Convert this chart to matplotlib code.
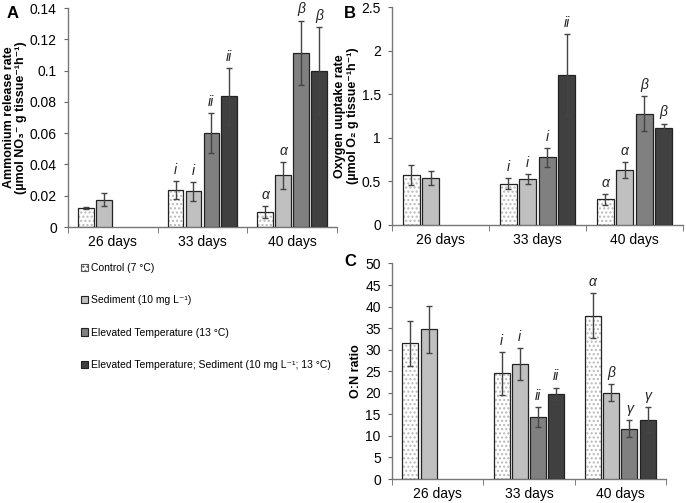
import numpy as np
import matplotlib
matplotlib.use("Agg")
import matplotlib.pyplot as plt
from matplotlib.patches import Rectangle

plt.rcParams['font.family'] = ['Liberation Sans', 'DejaVu Sans']

days = ["26 days", "33 days", "40 days"]
treatments = ["Control (7 °C)", "Sediment (10 mg L⁻¹)", "Elevated Temperature (13 °C)",
              "Elevated Temperature; Sediment (10 mg L⁻¹; 13 °C)"]
colors = ["#ffffff", "#c0c0c0", "#808080", "#404040"]

# Panel A: ammonium release rate (rows = treatments, cols = days)
amm_mean = [[0.012, 0.0235, 0.0095],
            [0.0175, 0.0228, 0.033],
            [np.nan, 0.060, 0.1115],
            [np.nan, 0.0835, 0.100]]
amm_err = [[0.0007, 0.0058, 0.0037],
           [0.0043, 0.006, 0.0085],
           [np.nan, 0.013, 0.0205],
           [np.nan, 0.018, 0.028]]
amm_sig = [["", "i", "α"], ["", "i", "α"], ["", "ii", "β"], ["", "ii", "β"]]

# Panel B: oxygen uptake rate
oxy_mean = [[0.575, 0.475, 0.295],
            [0.535, 0.53, 0.63],
            [np.nan, 0.775, 1.275],
            [np.nan, 1.72, 1.11]]
oxy_err = [[0.115, 0.063, 0.063],
           [0.08, 0.057, 0.096],
           [np.nan, 0.11, 0.2],
           [np.nan, 0.47, 0.053]]
oxy_sig = [["", "i", "α"], ["", "i", "α"], ["", "i", "β"], ["", "ii", "β"]]

# Panel C: O:N ratio
on_mean = [[31.5, 24.5, 37.9],
           [34.7, 26.6, 20.0],
           [np.nan, 14.3, 11.7],
           [np.nan, 19.8, 13.8]]
on_err = [[5.2, 5.0, 5.3],
          [5.4, 3.7, 2.0],
          [np.nan, 2.3, 2.0],
          [np.nan, 1.4, 2.8]]
on_sig = [["", "i", "α"], ["", "i", "β"], ["", "ii", "γ"], ["", "ii", "γ"]]

fig = plt.figure(figsize=(6.86, 5.03), dpi=100)
axA = fig.add_axes([0.0991, 0.5487, 0.392, 0.4353])
axB = fig.add_axes([0.5714, 0.5527, 0.4242, 0.4333])
axC = fig.add_axes([0.5714, 0.0477, 0.3994, 0.4285])

width = 0.175
step = 0.2
x = np.arange(len(days))


def draw(ax, means, errs, sigs, ymax, yticks, yticklabels, ylabel):
    for i in range(4):
        pos = x + (i - 1.5) * step
        m = np.array(means[i], dtype=float)
        e = np.array(errs[i], dtype=float)
        if i == 0:
            ax.bar(pos, m, width, color="white", hatch="....", edgecolor="#b8b8b8",
                   linewidth=0, zorder=2)
            ax.bar(pos, m, width, fill=False, edgecolor="#222222", linewidth=0.9, zorder=3)
        else:
            ax.bar(pos, m, width, color=colors[i], edgecolor="#222222", linewidth=0.9, zorder=3)
        ax.errorbar(pos, m, yerr=e, fmt="none", ecolor="#444444", elinewidth=1,
                    capsize=2.5, capthick=1, zorder=4)
        for j in range(len(days)):
            s = sigs[i][j]
            if s and not np.isnan(m[j]):
                ax.annotate(s, (pos[j], m[j] + e[j]), xytext=(0, 3), textcoords="offset points",
                            ha="center", va="bottom", fontsize=10, style="italic", color="#222222")
    ax.set_xlim(-0.5, 2.5)
    ax.set_ylim(0, ymax)
    ax.set_yticks(yticks)
    ax.set_yticklabels(yticklabels)
    ax.set_xticks(x)
    ax.set_xticklabels(days)
    ax.set_xticks([-0.5, 0.5, 1.5, 2.5], minor=True)
    ax.tick_params(axis="x", which="major", length=0, labelsize=10, pad=6)
    ax.tick_params(axis="x", which="minor", length=4, direction="out", color="#666666")
    ax.tick_params(axis="y", length=3, direction="out", labelsize=10, color="#666666", pad=5)
    for sp in ["top", "right"]:
        ax.spines[sp].set_visible(False)
    for sp in ["left", "bottom"]:
        ax.spines[sp].set_color("#777777")
        ax.spines[sp].set_linewidth(1)
    ax.set_ylabel(ylabel, fontsize=9, fontweight="bold", labelpad=2, linespacing=1.05)


draw(axA, amm_mean, amm_err, amm_sig, 0.14, np.arange(0, 0.1401, 0.02),
     ["0", "0.02", "0.04", "0.06", "0.08", "0.1", "0.12", "0.14"],
     "Ammonium release rate\n(µmol NO₃⁻ g tissue⁻¹h⁻¹)")
draw(axB, oxy_mean, oxy_err, oxy_sig, 2.5, np.arange(0, 2.51, 0.5),
     ["0", "0.5", "1", "1.5", "2", "2.5"],
     "Oxygen uuptake rate\n(µmol O₂ g tissue⁻¹h⁻¹)")
draw(axC, on_mean, on_err, on_sig, 50, np.arange(0, 51, 5),
     [str(v) for v in range(0, 51, 5)], "O:N ratio")

fig.text(7 / 686, 1 - 13 / 503, "A", fontsize=12, fontweight="bold", va="center")
fig.text(344 / 686, 1 - 13 / 503, "B", fontsize=12, fontweight="bold", va="center")
fig.text(344 / 686, 1 - 262 / 503, "C", fontsize=12, fontweight="bold", va="center")

handles = []
for i in range(4):
    if i == 0:
        handles.append(Rectangle((0, 0), 1, 1, facecolor="white", hatch="....",
                                 edgecolor="#555555", linewidth=0.8))
    else:
        handles.append(Rectangle((0, 0), 1, 1, facecolor=colors[i], edgecolor="#222222",
                                 linewidth=0.8))
fig.legend(handles, treatments, loc="upper left", bbox_to_anchor=(81 / 686, 1 - 263 / 503),
           frameon=False, fontsize=7.5, handlelength=0.7, handleheight=0.7,
           handletextpad=0.3, labelspacing=2.15, borderpad=0, borderaxespad=0)

fig.savefig("out.png", dpi=100)
